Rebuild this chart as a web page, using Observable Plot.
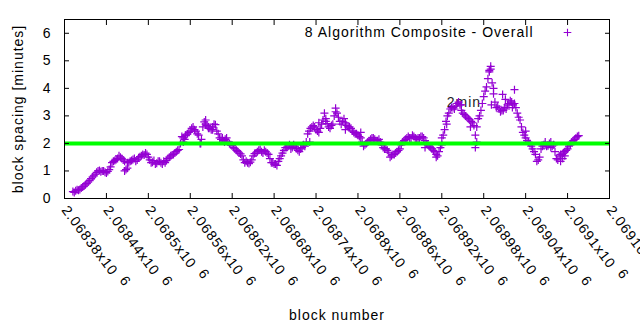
<!DOCTYPE html>
<html><head><meta charset="utf-8">
<script src="https://cdn.jsdelivr.net/npm/d3@7"></script>
<script src="https://cdn.jsdelivr.net/npm/@observablehq/plot@0.6"></script>
<style>
html,body{margin:0;padding:0;background:#fff;}
#chart svg{display:block;}
</style></head><body><div id="chart"></div>
<script>
// ---- data ----
const firstBlock = 2068392;   // block number of first sampled point
const blockStep = 4;          // sampled every 4 blocks
const spacing = [
  0.25,0.28,0.30,0.38,0.45,0.55,0.65,0.78,0.88,1.0,
  0.97,1.0,0.93,1.05,1.3,1.38,1.45,1.5,1.4,1.05,
  1.3,1.38,1.45,1.4,1.52,1.6,1.65,1.5,1.3,1.38,
  1.28,1.35,1.25,1.3,1.45,1.55,1.6,1.7,1.78,2.25,
  2.15,2.35,2.45,2.6,2.45,2.3,2.15,2.78,2.65,2.55,
  2.6,2.68,2.35,2.15,2.1,2.2,2.0,1.93,1.8,1.7,
  1.62,1.4,1.35,1.27,1.4,1.63,1.7,1.78,1.65,1.7,
  1.6,1.3,1.25,1.2,1.45,1.65,1.85,1.9,1.8,1.95,
  1.82,1.7,1.85,1.9,2.35,2.55,2.65,2.5,2.4,2.7,
  3.1,2.72,2.55,2.7,3.28,2.95,2.7,2.9,2.65,2.6,
  2.45,2.35,2.3,2.2,1.9,2.0,2.1,2.2,2.15,2.1,
  2.05,1.85,1.8,1.68,1.55,1.6,1.7,1.8,2.05,2.15,
  2.25,2.2,2.25,2.15,2.2,2.25,2.1,1.95,1.85,1.75,
  1.6,1.7,1.95,2.5,3.0,3.25,3.3,3.35,3.5,3.2,
  3.05,2.95,2.85,2.75,2.3,2.9,3.2,3.7,4.05,4.6,
  4.2,3.5,3.35,3.15,3.2,3.25,3.45,3.5,3.45,3.1,
  2.85,2.4,2.2,2.05,1.9,1.7,1.35,1.5,1.9,1.95,
  1.92,2.05,1.95,1.45,1.55,1.6,1.7,1.8,1.95,2.1,
  2.2,2.28
];
// second reading, the blocks half-way between the first ones
const firstBlockB = 2068394;
const spacingB = [
  0.22,0.32,0.33,0.42,0.5,0.6,0.72,0.82,0.95,1.02,
  1.0,0.95,0.98,1.15,1.35,1.42,1.55,1.45,1.35,1.3,
  1.35,1.42,1.35,1.48,1.55,1.58,1.6,1.4,1.32,1.25,
  1.35,1.3,1.35,1.38,1.5,1.58,1.65,1.75,2.0,2.2,
  2.3,2.4,2.55,2.5,2.35,2.0,2.6,2.7,2.6,2.5,
  2.7,2.45,2.2,2.2,2.15,2.05,1.95,1.85,1.75,1.65,
  1.55,1.3,1.3,1.32,1.55,1.65,1.75,1.7,1.75,1.65,
  1.45,1.3,1.25,1.35,1.55,1.75,1.85,1.95,1.85,1.9,
  1.75,1.8,1.95,2.05,2.45,2.6,2.6,2.45,2.55,2.85,
  2.8,2.6,2.65,3.0,3.1,2.8,2.8,2.75,2.6,2.55,
  2.4,2.35,2.25,2.05,1.95,2.05,2.15,2.2,2.1,2.15,
  1.95,1.8,1.75,1.5,1.6,1.65,1.75,1.95,2.1,2.2,
  2.2,2.3,2.2,2.2,2.25,2.2,2.0,1.9,1.8,1.7,
  1.55,1.85,2.3,2.8,3.1,3.3,3.25,3.45,3.4,3.1,
  3.0,2.9,2.8,2.65,2.6,3.0,3.45,3.9,4.35,4.7,
  3.8,3.3,3.25,3.2,3.3,3.4,3.55,3.4,3.3,2.95,
  2.6,2.3,2.1,2.0,1.8,1.6,1.4,1.8,1.95,1.9,
  2.0,1.9,1.7,1.4,1.6,1.65,1.75,1.9,2.05,2.15,
  2.25
];
const extraBlocks = [
  2068466,2068470,2068550,2068553,2068575,2068582,2068586,2068592,2068609,
  2068731,2068744,2068754,2068768,2068782,2068804,2068896,2068912,
  2068920,2068927,2068948,2068961,2068968,2068970,2068988,2068990,2068991,
  2068994,2069007,2069011,2069021,2069024,2069040,2069068,2069076,
  2069090,2069093,2069096
];
const extraSpacing = [
  1.0,1.1,2.05,2.3,2.0,2.85,2.55,2.5,2.05,
  2.05,2.75,2.9,3.15,2.5,2.4,1.85,1.5,
  2.2,2.7,3.4,2.6,1.85,2.05,4.65,4.8,3.4,
  4.0,3.78,3.6,3.3,3.95,2.45,2.05,1.85,
  1.35,1.45,1.55
];
const xTicks = [2068380,2068440,2068500,2068560,2068620,2068680,2068740,2068800,2068860,2068920,2068980,2069040,2069100,2069160];
const xTickLabels = ["2.06838","2.06844","2.0685","2.06856","2.06862","2.06868","2.06874","2.0688","2.06886","2.06892","2.06898","2.06904","2.0691","2.06916"];
const xTickExponent = "6";
const yTicks = [0,1,2,3,4,5,6];
const targetMinutes = [2];
const seriesName = "8 Algorithm Composite - Overall";
const annotation = "2min";
const annotationBlock = 2068927;
const annotationValue = 3.5;
const xTitle = "block number";
const yTitle = "block spacing [minutes]";

// ---- build ----
const points = spacing.map((v, i) => ({block: firstBlock + i * blockStep, v}))
  .concat(spacingB.map((v, i) => ({block: firstBlockB + i * blockStep, v})))
  .concat(extraBlocks.map((b, i) => ({block: b, v: extraSpacing[i]})));
const labelOf = new Map(xTicks.map((t, i) => [t, xTickLabels[i]]));
const purple = "#9400d3";
const plus = {draw(ctx, size) {const r = Math.sqrt(size / Math.PI); ctx.moveTo(-r, 0); ctx.lineTo(r, 0); ctx.moveTo(0, -r); ctx.lineTo(0, r);}};

const chart = Plot.plot({
  width: 640, height: 330,
  marginLeft: 64, marginRight: 31, marginTop: 19, marginBottom: 132,
  style: {fontFamily: "'Liberation Sans', Arial, sans-serif", fontSize: "14px", letterSpacing: "1px", background: "#fff", color: "#000"},
  x: {domain: [xTicks[0], xTicks[xTicks.length - 1]]},
  y: {domain: [0, 6.5]},
  marks: [
    Plot.text([annotation], {x: [annotationBlock], y: [annotationValue], textAnchor: "start", fill: "#222"}),
    Plot.dot(points, {x: "block", y: "v", symbol: plus, r: 4, stroke: purple, fill: "none", strokeWidth: 1.2}),
    Plot.ruleY(targetMinutes, {stroke: "#00ff00", strokeWidth: 4}),
    Plot.axisY(yTicks, {anchor: "left", tickSize: 0, tickPadding: 13, label: null}),
    Plot.axisY(yTicks, {anchor: "left", tickSize: -5, tickFormat: () => "", label: null}),
    Plot.axisY(yTicks, {anchor: "right", tickSize: -5, tickFormat: () => "", label: null}),
    Plot.axisX(xTicks, {anchor: "bottom", tickSize: 0, tickPadding: 9, tickRotate: 53, textAnchor: "start", lineAnchor: "middle", tickFormat: d => labelOf.get(d) + "x10 " + xTickExponent, label: null}),
    Plot.axisX(xTicks, {anchor: "bottom", tickSize: -5, tickFormat: () => "", label: null}),
    Plot.axisX(xTicks, {anchor: "top", tickSize: -5, tickFormat: () => "", label: null}),
    Plot.frame({stroke: "#000"}),
    Plot.text([seriesName], {frameAnchor: "top-right", textAnchor: "end", lineAnchor: "middle", dx: -76, dy: 13}),
    Plot.dot([seriesName], {frameAnchor: "top-right", dx: -42, dy: 13, symbol: plus, r: 3.8, stroke: purple, fill: "none", strokeWidth: 1.1}),
    Plot.text([yTitle], {frameAnchor: "left", textAnchor: "middle", dx: -46, rotate: -90, lineAnchor: "middle"}),
    Plot.text([xTitle], {frameAnchor: "bottom", textAnchor: "middle", dy: 117, lineAnchor: "middle"})
  ]
});

// raise the exponent as a superscript
d3.select(chart).selectAll('g[aria-label="x-axis tick label"] text').each(function() {
  const s = this.textContent;
  const k = s.lastIndexOf(" ");
  if (k < 0) return;
  const t = d3.select(this);
  t.text(null);
  t.append("tspan").text(s.slice(0, k));
  t.append("tspan").attr("dy", "-0.3em").attr("dx", "3").text(" " + s.slice(k + 1));
});

document.getElementById("chart").append(chart);
</script>
</body></html>
